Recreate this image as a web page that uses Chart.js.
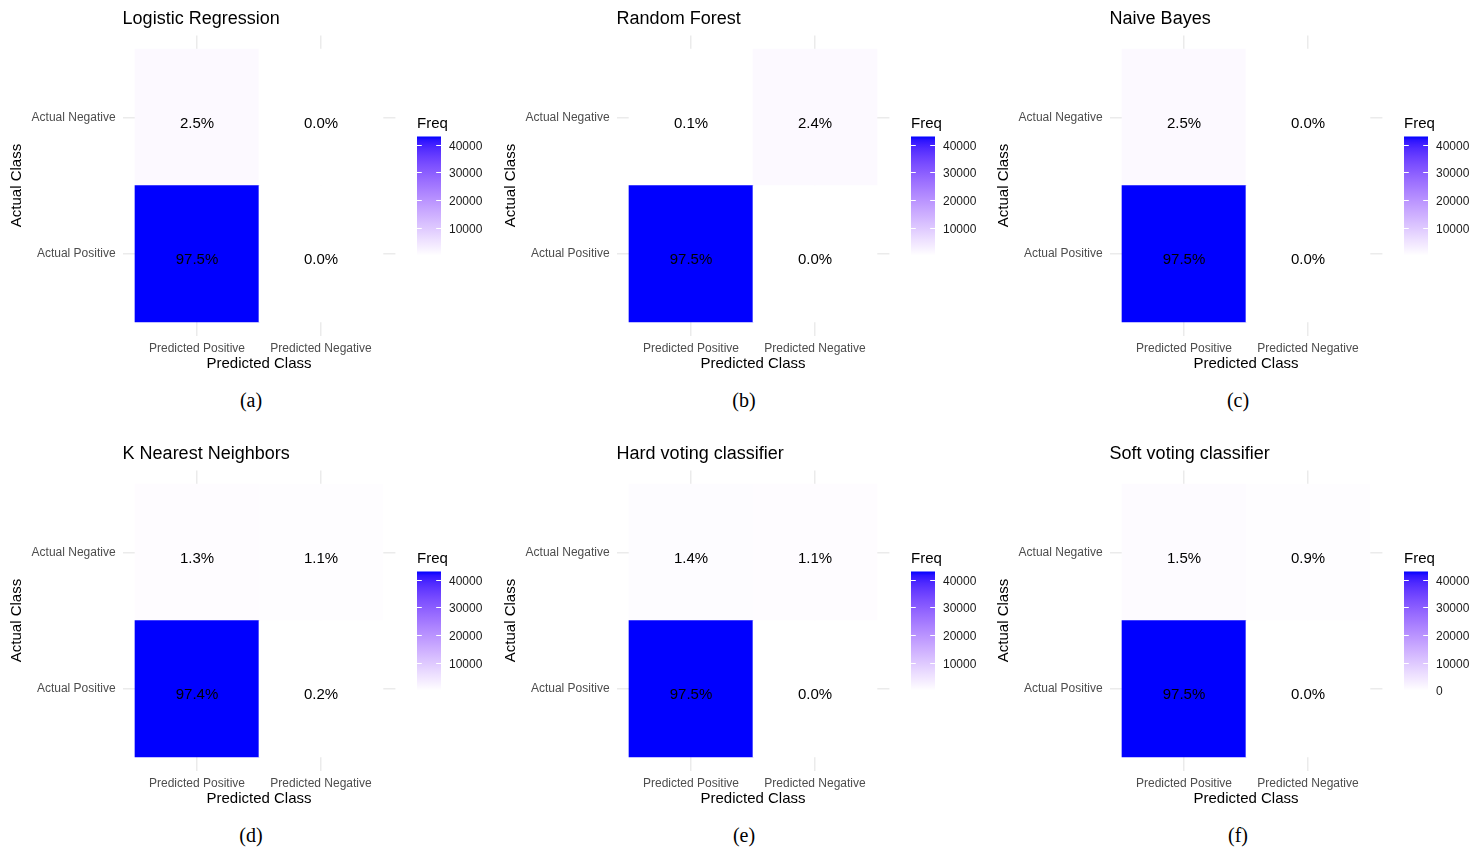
<!DOCTYPE html>
<html>
<head>
<meta charset="utf-8">
<script src="https://cdn.jsdelivr.net/npm/chart.js@4.4.1/dist/chart.umd.min.js"></script>
<style>
  body { margin: 0; background: #fff; }
  #fig { position: relative; width: 1476px; height: 850px; overflow: hidden; }
  #fig canvas { position: absolute; }
  .tag { position: absolute; width: 100px; text-align: center; font: 20px "Liberation Serif", "Times New Roman", serif; color: #000; line-height: 24px; }
</style>
</head>
<body>
<div id="fig"></div>
<script>
// confusion matrix counts, one entry per model
const modelNames = ["Logistic Regression", "Random Forest", "Naive Bayes",
                    "K Nearest Neighbors", "Hard voting classifier", "Soft voting classifier"];
const panelTags = ["(a)", "(b)", "(c)", "(d)", "(e)", "(f)"];
const predictedClasses = ["Predicted Positive", "Predicted Negative"];
const actualClasses = ["Actual Positive", "Actual Negative"]; // bottom row first

const posPredPos = [42996, 42990, 42998, 42954, 42996, 43002];
const posPredNeg = [4, 10, 2, 88, 8, 0];
const negPredPos = [1098, 44, 1099, 573, 613, 680];
const negPredNeg = [2, 1056, 1, 485, 483, 418];
const freqTicks = [0, 10000, 20000, 30000, 40000];

const FONT = '"Liberation Sans", Arial, Helvetica, sans-serif';
Chart.defaults.font.family = FONT;

// white -> blue ramp in CIELAB, like ggplot's scale_fill_gradient
function toLin(c) { c /= 255; return c <= 0.04045 ? c / 12.92 : Math.pow((c + 0.055) / 1.055, 2.4); }
function fromLin(c) {
    c = c <= 0.0031308 ? 12.92 * c : 1.055 * Math.pow(c, 1 / 2.4) - 0.055;
    return Math.round(Math.max(0, Math.min(1, c)) * 255);
}
function rgbToLab(rgb) {
    const r = toLin(rgb[0]), g = toLin(rgb[1]), b = toLin(rgb[2]);
    const X = (0.4124 * r + 0.3576 * g + 0.1805 * b) / 0.95047;
    const Y = 0.2126 * r + 0.7152 * g + 0.0722 * b;
    const Z = (0.0193 * r + 0.1192 * g + 0.9505 * b) / 1.08883;
    const f = t => t > 0.008856 ? Math.cbrt(t) : 7.787 * t + 16 / 116;
    return [116 * f(Y) - 16, 500 * (f(X) - f(Y)), 200 * (f(Y) - f(Z))];
}
function labToCss(lab) {
    const fy = (lab[0] + 16) / 116, fx = lab[1] / 500 + fy, fz = fy - lab[2] / 200;
    const inv = t => t * t * t > 0.008856 ? t * t * t : (t - 16 / 116) / 7.787;
    const X = inv(fx) * 0.95047, Y = inv(fy), Z = inv(fz) * 1.08883;
    const r = 3.2406 * X - 1.5372 * Y - 0.4986 * Z;
    const g = -0.9689 * X + 1.8758 * Y + 0.0415 * Z;
    const b = 0.0557 * X - 0.2040 * Y + 1.0570 * Z;
    return "rgb(" + fromLin(r) + "," + fromLin(g) + "," + fromLin(b) + ")";
}
const LOW = rgbToLab([255, 255, 255]);
const HIGH = rgbToLab([0, 0, 255]);
function ramp(t) {
    t = Math.max(0, Math.min(1, t));
    return labToCss([0, 1, 2].map(i => LOW[i] + (HIGH[i] - LOW[i]) * t));
}

const cellText = {
    id: "cellText",
    afterDatasetsDraw(chart) {
        const ctx = chart.ctx;
        const total = chart.$total;
        ctx.save();
        ctx.font = "15px " + FONT;
        ctx.fillStyle = "#000";
        ctx.textAlign = "center";
        ctx.textBaseline = "middle";
        chart.data.datasets.forEach((ds, di) => {
            chart.getDatasetMeta(di).data.forEach((el, i) => {
                const p = el.getCenterPoint();
                const pct = (ds.counts[i] / total * 100).toFixed(1) + "%";
                ctx.fillText(pct, p.x, p.y + 6.5);
            });
        });
        ctx.restore();
    }
};

const panelTitle = {
    id: "panelTitle",
    afterDraw(chart) {
        const ctx = chart.ctx;
        ctx.save();
        ctx.font = "18px " + FONT;
        ctx.fillStyle = "#000";
        ctx.textAlign = "left";
        ctx.textBaseline = "middle";
        ctx.fillText(chart.$title, chart.chartArea.left, 19);
        ctx.restore();
    }
};

const freqLegend = {
    id: "freqLegend",
    afterDraw(chart) {
        const ctx = chart.ctx;
        const area = chart.chartArea;
        const lo = chart.$min, hi = chart.$max;
        const x0 = area.right + 21.6, w = 24, h = 119;
        const mid = (area.top + area.bottom) / 2;
        const top = mid - 49, bottom = top + h;
        ctx.save();
        const grad = ctx.createLinearGradient(0, bottom, 0, top);
        for (let s = 0; s <= 30; s++) grad.addColorStop(s / 30, ramp(s / 30));
        ctx.fillStyle = grad;
        ctx.fillRect(x0, top, w, h);
        ctx.font = "15px " + FONT;
        ctx.fillStyle = "#000";
        ctx.textBaseline = "middle";
        ctx.fillText("Freq", x0, top - 12.5);
        ctx.font = "12px " + FONT;
        ctx.fillStyle = "#1a1a1a";
        ctx.strokeStyle = "#fff";
        ctx.lineWidth = 1;
        freqTicks.filter(v => v >= lo && v <= hi).forEach(v => {
            const y = Math.round(bottom - (v - lo) / (hi - lo) * h) + 0.5;
            ctx.beginPath();
            ctx.moveTo(x0, y); ctx.lineTo(x0 + 4.8, y);
            ctx.moveTo(x0 + w - 4.8, y); ctx.lineTo(x0 + w, y);
            ctx.stroke();
            ctx.fillText(String(v), x0 + w + 8, y + 1);
        });
        ctx.restore();
    }
};

const fig = document.getElementById("fig");
const panelLeft = [0, 494, 987];
const panelTop = [0, 435];
const tagCenter = [251, 744, 1238];

modelNames.forEach((name, k) => {
    const rows = [[posPredPos[k], posPredNeg[k]], [negPredPos[k], negPredNeg[k]]];
    const all = rows[0].concat(rows[1]);
    const lo = Math.min(...all), hi = Math.max(...all);
    const total = all.reduce((a, b) => a + b, 0);
    const left = panelLeft[k % 3], topPx = panelTop[Math.floor(k / 3)];

    const cv = document.createElement("canvas");
    cv.width = 489; cv.height = 380;
    cv.style.left = left + "px"; cv.style.top = topPx + "px";
    cv.style.width = "489px"; cv.style.height = "380px";
    fig.appendChild(cv);

    const tag = document.createElement("div");
    tag.className = "tag";
    tag.textContent = panelTags[k];
    tag.style.left = (tagCenter[k % 3] - 50) + "px";
    tag.style.top = (topPx + 388) + "px";
    fig.appendChild(tag);

    const datasets = rows.map((row, r) => ({
        label: actualClasses[r],
        data: row.map((c, j) => ({ x: j + 1, y: [r + 0.5, r + 1.5] })),
        counts: row,
        backgroundColor: row.map(c => ramp((c - lo) / (hi - lo))),
        borderWidth: 0,
        barPercentage: 1,
        categoryPercentage: 1,
        grouped: false
    }));

    const chart = new Chart(cv, {
        type: "bar",
        data: { datasets: datasets },
        options: {
            responsive: false,
            devicePixelRatio: 1,
            animation: false,
            events: [],
            layout: { padding: { left: 0, right: 93.6, top: 35.4, bottom: 0 } },
            plugins: { legend: { display: false }, tooltip: { enabled: false } },
            scales: {
                x: {
                    type: "linear", min: 0.4, max: 2.6, offset: false,
                    afterBuildTicks: s => { s.ticks = [{ value: 1 }, { value: 2 }]; },
                    afterFit: s => { s.height = 44.4; },
                    ticks: { autoSkip: false, maxRotation: 0, padding: 5.5, color: "#4d4d4d",
                             font: { size: 12 }, callback: v => predictedClasses[v - 1] },
                    grid: { color: "#ebebeb", lineWidth: 1.5, drawTicks: false, offset: false },
                    border: { display: false },
                    title: { display: true, text: "Predicted Class", color: "#000",
                             font: { size: 15 }, padding: { top: 0, bottom: 7.5 } }
                },
                y: {
                    type: "linear", min: 0.4, max: 2.6,
                    afterBuildTicks: s => { s.ticks = [{ value: 1 }, { value: 2 }]; },
                    afterFit: s => { s.width = 122.6; },
                    ticks: { autoSkip: false, padding: 7, color: "#4d4d4d",
                             font: { size: 12 }, callback: v => actualClasses[v - 1] },
                    grid: { color: "#ebebeb", lineWidth: 1.5, drawTicks: false },
                    border: { display: false },
                    title: { display: true, text: "Actual Class", color: "#000",
                             font: { size: 15 }, padding: { top: 8, bottom: 0 } }
                }
            }
        },
        plugins: [cellText, panelTitle, freqLegend]
    });
    chart.$title = name;
    chart.$total = total;
    chart.$min = lo;
    chart.$max = hi;
    chart.draw();
});
</script>
</body>
</html>
